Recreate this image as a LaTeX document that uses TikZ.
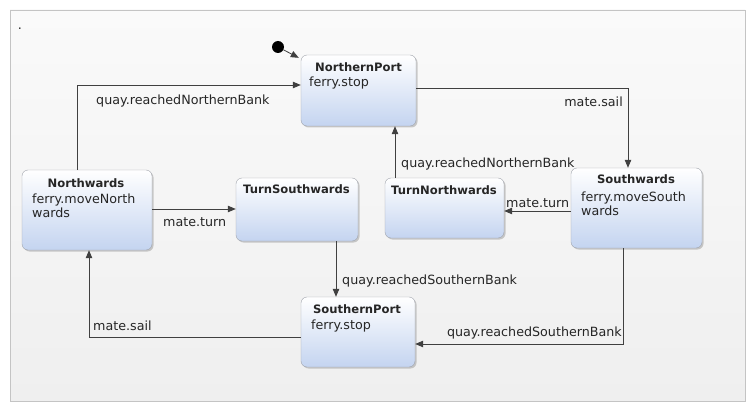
\documentclass[tikz,border=0pt]{standalone}
\usepackage{fontspec}
\setmainfont{DejaVu Sans}
\usetikzlibrary{arrows.meta,shadows}

\definecolor{boxblue}{RGB}{196,212,240}
\definecolor{boxline}{RGB}{160,164,172}
\definecolor{wire}{RGB}{64,64,64}
\definecolor{panelline}{RGB}{196,196,196}
\definecolor{paneltop}{RGB}{250,250,250}
\definecolor{panelbot}{RGB}{239,239,239}

\begin{document}
\begin{tikzpicture}[x=1pt, y=-1pt, every node/.style={font=\fontsize{12.7}{14}\selectfont, text=black!85},
	state/.style={draw=boxline, rounded corners=6pt, top color=white, bottom color=boxblue, inner sep=0pt,
		drop shadow={shadow xshift=1.5pt, shadow yshift=-1.5pt, fill=black!40}},
	title/.style={font=\fontsize{11.6}{14}\selectfont\bfseries, inner sep=0pt},
	body/.style={anchor=west, align=left, inner sep=0pt},
	lbl/.style={anchor=west, inner sep=0pt},
	trans/.style={draw=wire, line width=0.8pt, -{Triangle[length=8pt, width=6.5pt]}}]
			\useasboundingbox (0,0) rectangle (756,412);

			% Panel
			\draw[draw=panelline, top color=paneltop, bottom color=panelbot] (10,10) rectangle (745,401);
			\node[anchor=base, inner sep=0pt] (dot) at (20,29.5) {.};

			% States
			\node[state, minimum width=115, minimum height=71] (northernPort) at (358.5,90.5) {};
			\node[state, minimum width=130, minimum height=80] (northwards) at (87,210) {};
			\node[state, minimum width=122, minimum height=63] (turnSouthwards) at (297,209.5) {};
			\node[state, minimum width=119, minimum height=60] (turnNorthwards) at (444.5,208) {};
			\node[state, minimum width=131, minimum height=80] (southwards) at (636.5,208) {};
			\node[state, minimum width=114, minimum height=70] (southernPort) at (358,332) {};
			\node[circle, fill=black, minimum size=12, inner sep=0pt] (init) at (278,47) {};

			% State texts
			\node[title] (northernPortT) at (358.5,67) {NorthernPort};
			\node[body] (northernPortB) at (309,83) {ferry.stop};
			\node[title] (northwardsT) at (86,183) {Northwards};
			\node[body] (northwardsB) at (32,206) {ferry.moveNorth\\wards};
			\node[title] (turnSouthwardsT) at (296.5,189) {TurnSouthwards};
			\node[title] (turnNorthwardsT) at (444,190) {TurnNorthwards};
			\node[title] (southwardsT) at (636,179) {Southwards};
			\node[body] (southwardsB) at (581,204) {ferry.moveSouth\\wards};
			\node[title] (southernPortT) at (357,309) {SouthernPort};
			\node[body] (southernPortB) at (311,326) {ferry.stop};

			% Transitions
			\draw[trans] (init) -- ([xshift=-2pt, yshift=-3pt]northernPort.north west);
			\draw[trans] ([xshift=-10pt]northwards.north) |- ([yshift=5.5pt]northernPort.west);
			\draw[trans] ([yshift=2.5pt]northernPort.east) -| ([xshift=-8.5pt]southwards.north);
			\draw[trans] ([yshift=-3pt]southwards.west) -- ([yshift=-3pt]turnNorthwards.east);
			\coordinate (tnOut) at ([xshift=-49.5pt]turnNorthwards.north);
			\draw[trans] (tnOut) -- (tnOut |- northernPort.south);
			\coordinate (nwOut) at ([yshift=1pt]northwards.east);
			\draw[trans] (nwOut) -- (nwOut -| turnSouthwards.west);
			\coordinate (tsOut) at ([xshift=39pt]turnSouthwards.south);
			\draw[trans] (tsOut) -- (tsOut |- southernPort.north);
			\draw[trans] ([xshift=-13.5pt]southwards.south) |- ([yshift=-12pt]southernPort.east);
			\draw[trans] ([yshift=-5pt]southernPort.west) -| ([xshift=2pt]northwards.south);

			% Transition labels
			\node[lbl] (lNorthBankA) at (96,101) {quay.reachedNorthernBank};
			\node[lbl, anchor=east] (lSailA) at (623,102) {mate.sail};
			\node[lbl] (lTurnA) at (506,203) {mate.turn};
			\node[lbl] (lNorthBankB) at (401,164) {quay.reachedNorthernBank};
			\node[lbl] (lTurnB) at (163,222) {mate.turn};
			\node[lbl] (lSouthBankA) at (342,281) {quay.reachedSouthernBank};
			\node[lbl, anchor=east] (lSouthBankB) at (622,333) {quay.reachedSouthernBank};
			\node[lbl] (lSailB) at (93,326) {mate.sail};
		\end{tikzpicture}
\end{document}
